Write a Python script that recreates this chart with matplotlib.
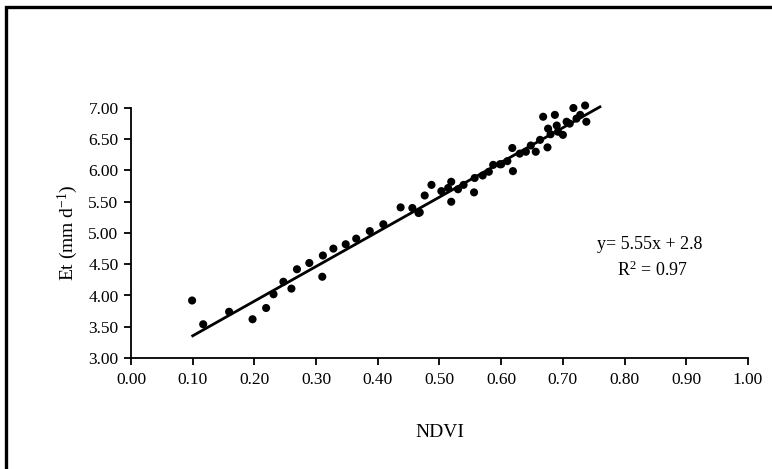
import matplotlib
matplotlib.use("Agg")
import matplotlib.pyplot as plt
from matplotlib.patches import Rectangle
import numpy as np

ndvi = [0.099, 0.117, 0.159, 0.197, 0.219, 0.231, 0.247, 0.260, 0.269, 0.289,
        0.310, 0.311, 0.328, 0.348, 0.365, 0.387, 0.409, 0.437, 0.456, 0.466,
        0.468, 0.476, 0.487, 0.503, 0.514, 0.519, 0.519, 0.530, 0.539, 0.556,
        0.557, 0.570, 0.580, 0.587, 0.600, 0.610, 0.618, 0.619, 0.630, 0.640,
        0.656, 0.663, 0.668, 0.675, 0.676, 0.680, 0.687, 0.692, 0.700, 0.706,
        0.711, 0.717, 0.722, 0.728, 0.736, 0.738, 0.648, 0.690, 0.598]
et = [3.92, 3.54, 3.74, 3.62, 3.80, 4.02, 4.22, 4.11, 4.42, 4.52,
      4.30, 4.64, 4.75, 4.82, 4.91, 5.03, 5.14, 5.41, 5.40, 5.32,
      5.33, 5.60, 5.77, 5.67, 5.72, 5.82, 5.50, 5.70, 5.77, 5.65,
      5.88, 5.92, 5.98, 6.09, 6.10, 6.15, 6.36, 5.99, 6.27, 6.30,
      6.30, 6.49, 6.86, 6.37, 6.67, 6.58, 6.89, 6.62, 6.57, 6.78,
      6.75, 7.00, 6.83, 6.89, 7.04, 6.78, 6.40, 6.72, 6.10]

slope = 5.55
intercept = 2.8
fit_range = [0.10, 0.76]

x_ticks = [0.0, 0.1, 0.2, 0.3, 0.4, 0.5, 0.6, 0.7, 0.8, 0.9, 1.0]
y_ticks = [3.0, 3.5, 4.0, 4.5, 5.0, 5.5, 6.0, 6.5, 7.0]

plt.rcParams['font.family'] = ['Liberation Serif', 'DejaVu Serif']
plt.rcParams['mathtext.fontset'] = 'custom'
plt.rcParams['mathtext.rm'] = 'Liberation Serif'
plt.rcParams['mathtext.it'] = 'Liberation Serif:italic'
plt.rcParams['mathtext.default'] = 'regular'

W, H = 772, 469
fig = plt.figure(figsize=(W / 100, H / 100), dpi=100)
fig.patch.set_facecolor('white')

# outer frame
fig.patches.append(Rectangle((5.5 / W, -0.1), 1.2, 1 - 7.5 / H + 0.1,
                             transform=fig.transFigure, fill=False,
                             edgecolor='black', linewidth=2.4, clip_on=False))

ax = fig.add_axes([131 / W, (H - 358) / H, 617 / W, 250 / H])
ax.scatter(ndvi, et, s=34, color='black', edgecolors='none', zorder=3, clip_on=False)
fx = np.array(fit_range)
ax.plot(fx, slope * fx + intercept, color='black', linewidth=2.0, zorder=2, clip_on=False)

ax.set_xlim(0, 1.0)
ax.set_ylim(3.0, 7.0)
ax.set_xticks(x_ticks)
ax.set_yticks(y_ticks)
ax.set_xticklabels([f"{v:.2f}" for v in x_ticks])
ax.set_yticklabels([f"{v:.2f}" for v in y_ticks])
for s in ['top', 'right']:
    ax.spines[s].set_visible(False)
for s in ['left', 'bottom']:
    ax.spines[s].set_linewidth(1.3)
ax.tick_params(axis='both', direction='out', length=5, width=1.3, labelsize=12.5)
ax.tick_params(axis='x', pad=5)
ax.tick_params(axis='y', pad=4)

ax.set_xlabel('NDVI', fontsize=14, labelpad=26)
ax.set_ylabel('Et (mm d$^{-1}$)', fontsize=14, labelpad=6)

fig.text(650 / W, 1 - 244 / H, 'y= 5.55x + 2.8', ha='center', va='center', fontsize=13)
fig.text(652 / W, 1 - 270 / H, 'R$^2$ = 0.97', ha='center', va='center', fontsize=13)

fig.savefig('out.png', dpi=100)
